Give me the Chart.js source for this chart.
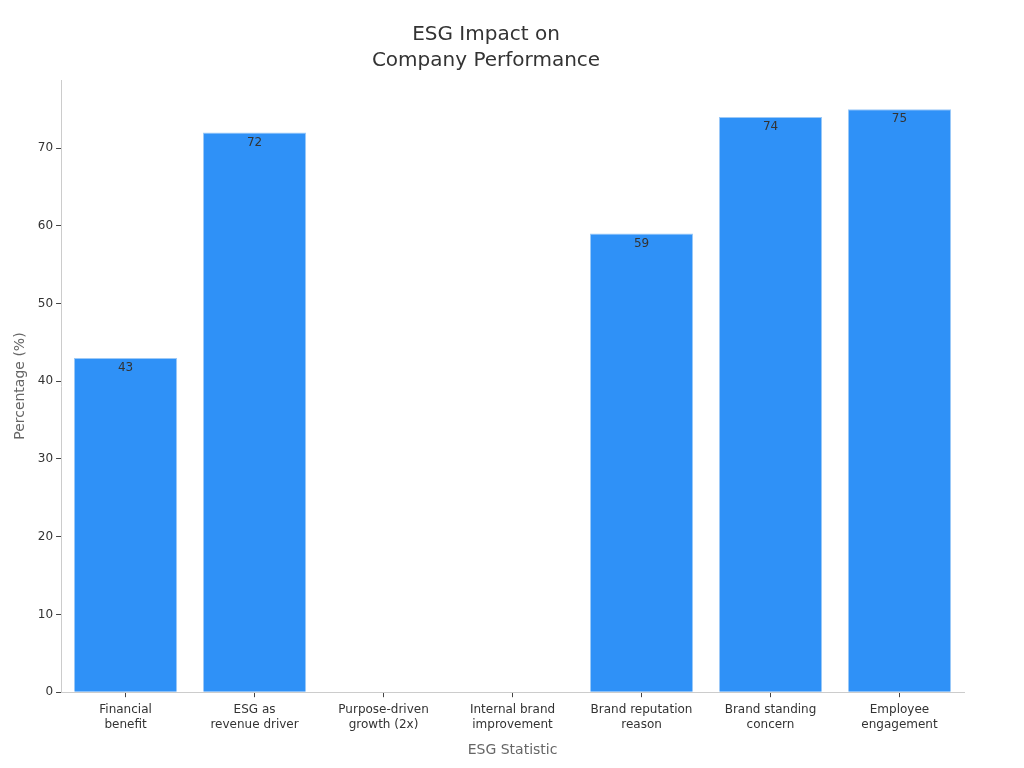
<!DOCTYPE html>
<html>
<head>
<meta charset="utf-8">
<script src="https://cdn.jsdelivr.net/npm/chart.js@4/dist/chart.umd.min.js"></script>
<style>
  html, body { margin: 0; padding: 0; background: #fff; }
  #wrap { width: 1024px; height: 768px; }
</style>
</head>
<body>
<div id="wrap"><canvas id="myChart"></canvas></div>
<script>
const categories = [
  ["Financial", "benefit"],
  ["ESG as", "revenue driver"],
  ["Purpose-driven", "growth (2x)"],
  ["Internal brand", "improvement"],
  ["Brand reputation", "reason"],
  ["Brand standing", "concern"],
  ["Employee", "engagement"],
];
const percentages = [43, 72, null, null, 59, 74, 75];
const yTicks = [0, 10, 20, 30, 40, 50, 60, 70];

Chart.defaults.font.family = "'DejaVu Sans', sans-serif";

// value labels just inside the top of each bar
const barLabels = {
  id: "barLabels",
  afterDatasetsDraw(chart) {
    const ctx = chart.ctx;
    const meta = chart.getDatasetMeta(0);
    ctx.save();
    ctx.font = "12px 'DejaVu Sans', sans-serif";
    ctx.fillStyle = "#333333";
    ctx.textAlign = "center";
    ctx.textBaseline = "middle";
    meta.data.forEach((bar, i) => {
      const v = percentages[i];
      if (v == null) return;
      ctx.fillText(String(v), bar.x, bar.y + 10);
    });
    ctx.restore();
  },
};

new Chart(document.getElementById("myChart"), {
  type: "bar",
  data: {
    labels: categories,
    datasets: [
      {
        label: "Percentage",
        data: percentages,
        backgroundColor: "#2f91f7",
        borderColor: "#9cc9f7",
        borderWidth: 1,
        barPercentage: 0.8,
        categoryPercentage: 1,
      },
    ],
  },
  options: {
    responsive: true,
    maintainAspectRatio: false,
    animation: false,
    layout: { padding: { top: 12, right: 60, bottom: 9, left: 8 } },
    plugins: {
      legend: { display: false },
      tooltip: { enabled: false },
      title: {
        display: true,
        text: ["ESG Impact on", "Company Performance"],
        color: "#333333",
        font: { size: 20, weight: "normal", lineHeight: 1.3 },
        padding: { top: 10, bottom: 6 },
      },
    },
    scales: {
      x: {
        grid: {
          offset: false,
          drawOnChartArea: false,
          drawTicks: true,
          tickLength: 5,
          color: "#444444",
        },
        border: { display: true, color: "#cccccc" },
        ticks: {
          color: "#333333",
          font: { size: 12, lineHeight: 1.25 },
          padding: 5,
          maxRotation: 0,
        },
        title: {
          display: true,
          text: "ESG Statistic",
          color: "#666666",
          font: { size: 14 },
          padding: { top: 5, bottom: 0 },
        },
      },
      y: {
        min: 0,
        max: 78.75,
        afterBuildTicks(axis) {
          axis.ticks = yTicks.map((v) => ({ value: v }));
        },
        grid: {
          drawOnChartArea: false,
          drawTicks: true,
          tickLength: 5,
          color: "#444444",
        },
        border: { display: true, color: "#cccccc" },
        ticks: { color: "#333333", font: { size: 12 }, padding: 3 },
        title: {
          display: true,
          text: "Percentage (%)",
          color: "#666666",
          font: { size: 14 },
          padding: { bottom: 6 },
        },
      },
    },
  },
  plugins: [barLabels],
});
</script>
</body>
</html>
